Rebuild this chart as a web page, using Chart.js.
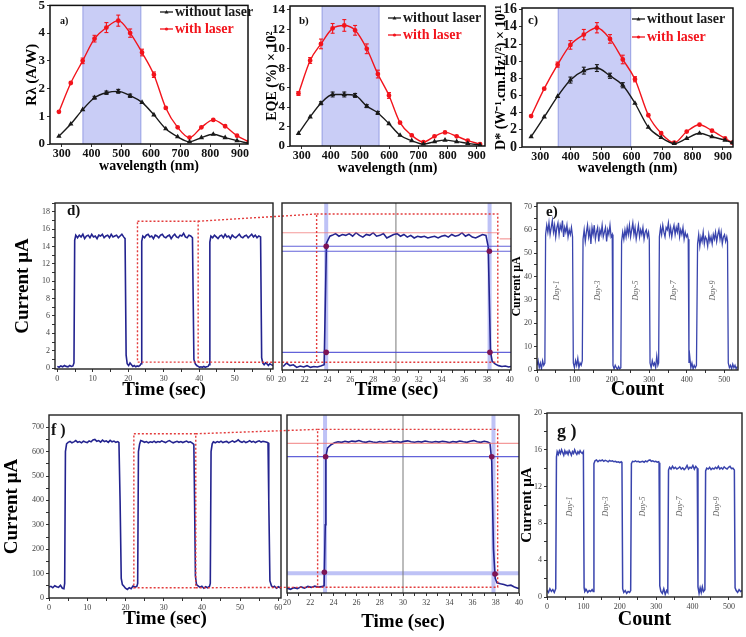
<!DOCTYPE html>
<html>
<head>
<meta charset="utf-8">
<script src="https://cdn.jsdelivr.net/npm/chart.js@4.4.1/dist/chart.umd.min.js"></script>
<style>
  html, body { margin: 0; padding: 0; background: #fff; }
  #page { position: relative; width: 746px; height: 637px; overflow: hidden; background: #fff; }
  #page canvas { position: absolute; left: 0; top: 0; }
</style>
</head>
<body>
<div id="page">
  <canvas id="cA" width="746" height="637"></canvas>
  <canvas id="cB" width="746" height="637"></canvas>
  <canvas id="cC" width="746" height="637"></canvas>
  <canvas id="cD" width="746" height="637"></canvas>
  <canvas id="cD2" width="746" height="637"></canvas>
  <canvas id="cE" width="746" height="637"></canvas>
  <canvas id="cF" width="746" height="637"></canvas>
  <canvas id="cF2" width="746" height="637"></canvas>
  <canvas id="cG" width="746" height="637"></canvas>
</div>
<script>
// ---------- a) responsivity ----------
const wlA = [290, 330, 370, 410, 450, 490, 530, 570, 610, 650, 690, 730, 770, 810, 850, 890, 930];
const respNoLaser = [0.28, 0.72, 1.24, 1.67, 1.85, 1.90, 1.74, 1.50, 1.05, 0.55, 0.26, 0.08, 0.23, 0.35, 0.23, 0.12, 0.02];
const respLaser = [1.16, 2.20, 3.00, 3.80, 4.20, 4.45, 4.00, 3.30, 2.50, 1.30, 0.60, 0.23, 0.60, 0.87, 0.64, 0.30, 0.08];
const respNoLaserErr = [0, 0, 0, 0.05, 0.06, 0.07, 0.06, 0, 0, 0, 0, 0, 0, 0, 0, 0, 0];
const respLaserErr = [0, 0, 0.10, 0.12, 0.18, 0.20, 0.15, 0.12, 0.10, 0, 0, 0, 0, 0, 0, 0, 0];

// ---------- b) EQE ----------
const wlB = [289, 329, 366, 406, 446, 483, 523, 561, 599, 637, 677, 717, 755, 791, 831, 869, 911];
const eqeNoLaser = [1.3, 3.0, 4.4, 5.3, 5.3, 5.2, 4.1, 3.4, 2.3, 1.1, 0.55, 0.2, 0.45, 0.6, 0.45, 0.27, 0.1];
const eqeLaser = [5.4, 8.8, 10.5, 12.1, 12.4, 11.9, 10.0, 7.4, 5.2, 2.4, 1.1, 0.4, 1.0, 1.4, 1.0, 0.55, 0.2];
const eqeNoLaserErr = [0, 0, 0.15, 0.25, 0.25, 0.2, 0.15, 0.15, 0, 0, 0, 0, 0, 0, 0, 0, 0];
const eqeLaserErr = [0.2, 0.3, 0.5, 0.5, 0.6, 0.5, 0.5, 0.4, 0.3, 0, 0, 0, 0, 0, 0, 0, 0];

// ---------- c) detectivity ----------
const wlC = [270, 313, 357, 399, 443, 486, 529, 571, 611, 655, 697, 740, 781, 823, 864, 907, 931];
const detNoLaser = [1.2, 3.5, 5.9, 7.8, 8.9, 9.2, 8.3, 7.2, 5.1, 2.3, 1.1, 0.4, 1.0, 1.6, 1.2, 0.8, 0.5];
const detLaser = [3.6, 6.8, 9.6, 11.9, 13.1, 13.9, 12.6, 10.2, 7.9, 3.7, 1.6, 0.5, 1.8, 2.6, 1.9, 1.0, 0.5];
const detNoLaserErr = [0, 0, 0, 0.35, 0.4, 0.4, 0.3, 0.3, 0, 0, 0, 0, 0, 0, 0, 0, 0];
const detLaserErr = [0, 0, 0.3, 0.5, 0.6, 0.6, 0.5, 0.5, 0.3, 0, 0, 0, 0, 0, 0, 0, 0];

const wlTicks = [300, 400, 500, 600, 700, 800, 900];
const respTicks = [0, 1, 2, 3, 4, 5];
const eqeTicks = [0, 2, 4, 6, 8, 10, 12, 14];
const detTicks = [0, 2, 4, 6, 8, 10, 12, 14, 16];
const shadeA = [371, 566], shadeB = [370, 565], shadeC = [359, 597];

// ---------- d) switching, 15 uA (time s, current uA) ----------
const dTrace = [[0,0.2],[0.5,0.1],[1,0.25],[1.5,0.15],[2,0.3],[2.5,0.2],[3,0.15],[3.5,0.3],[4,0.2],[4.4,0.25],[4.7,0.6],
 [4.9,14.7],[5.2,15.3],[5.7,15.0],[6.2,15.3],[6.7,15.1],[7.2,15.4],[7.7,14.9],[8.2,15.2],[8.7,15.3],[9.2,15.0],[9.7,15.4],[10.2,15.1],[10.7,15.2],[11.2,14.9],[11.7,15.3],[12.2,15.2],[12.7,15.4],[13.2,15.0],[13.7,15.2],[14.2,15.3],[14.7,15.0],[15.2,15.4],[15.7,15.1],[16.2,15.2],[16.7,15.3],[17.2,15.0],[17.7,15.2],[18.2,15.4],[18.7,15.1],[19.1,14.9],
 [19.4,1.5],[19.7,0.5],[20.1,0.3],[20.5,0.6],[20.9,0.4],[21.3,0.2],[21.7,0.3],[22.1,0.15],[22.5,0.25],[22.9,0.2],[23.3,0.3],[23.6,0.5],
 [23.8,14.6],[24.1,15.2],[24.6,15.0],[25.1,15.3],[25.6,15.4],[26.1,15.1],[26.6,15.2],[27.1,14.9],[27.6,15.3],[28.1,15.2],[28.6,15.0],[29.1,15.3],[29.6,15.4],[30.1,15.1],[30.6,15.0],[31.1,15.2],[31.6,15.3],[32.1,14.9],[32.6,15.2],[33.1,15.4],[33.6,15.1],[34.1,15.0],[34.6,15.3],[35.1,15.2],[35.6,15.5],[36.1,15.1],[36.6,15.0],[37.1,15.3],[37.6,15.2],[38.1,15.0],
 [38.5,1.0],[38.9,0.5],[39.3,0.3],[39.7,0.2],[40.1,0.1],[40.5,0.15],[40.9,0.1],[41.3,0.2],[41.7,0.1],[42.1,0.15],[42.5,0.2],[42.8,0.4],
 [43.0,14.5],[43.3,15.2],[43.8,15.0],[44.3,15.3],[44.8,15.1],[45.3,14.9],[45.8,15.2],[46.3,15.3],[46.8,15.0],[47.3,15.4],[47.8,15.1],[48.3,15.2],[48.8,14.9],[49.3,15.3],[49.8,15.1],[50.3,15.0],[50.8,15.2],[51.3,15.4],[51.8,15.1],[52.3,15.0],[52.8,15.2],[53.3,15.3],[53.8,15.0],[54.3,15.2],[54.8,15.4],[55.3,15.1],[55.8,15.3],[56.3,15.0],[56.8,15.2],[57.3,15.1],
 [57.6,1.2],[57.9,0.6],[58.3,0.4],[58.7,0.6],[59.1,0.5],[59.5,0.3],[59.9,0.5],[60.3,0.4],[60.8,0.3]];

// zoom of one pulse
const d2Trace = [[20.1,0.3],[20.4,0.7],[20.7,0.4],[21.0,0.5],[21.3,0.2],[21.6,0.35],[21.9,0.25],[22.2,0.4],[22.5,0.2],[22.8,0.3],[23.1,0.25],[23.4,0.35],[23.7,0.5],
 [23.9,14.4],[24.2,15.2],
 [24.4,15.3],[24.7,15.5],[25.0,15.2],[25.3,15.4],[25.6,15.3],[25.9,15.5],[26.2,15.2],[26.5,15.6],[26.8,15.3],[27.1,15.1],[27.4,15.4],[27.7,15.3],[28.0,15.6],[28.3,15.2],[28.6,15.3],[28.9,15.5],[29.2,15.0],[29.5,15.2],[29.8,15.4],[30.1,15.5],[30.4,15.2],[30.7,15.4],[31.0,15.1],[31.3,15.3],[31.6,15.0],[31.9,15.2],[32.2,15.1],[32.5,15.2],[32.8,15.0],[33.1,15.1],[33.4,15.2],[33.7,15.0],[34.0,15.2],[34.3,15.3],[34.6,15.1],[34.9,15.4],[35.2,15.2],[35.5,15.3],[35.8,15.6],[36.1,15.2],[36.4,15.4],[36.7,15.1],[37.0,15.0],[37.3,15.2],[37.6,15.4],[37.9,15.3],
 [38.1,14.0],[38.3,2.0],[38.45,0.9],[38.7,0.6],[39.0,0.4],[39.3,0.3],[39.6,0.35],[39.9,0.25],[40.1,0.3]];

// ---------- e) stability, 60 uA (count, current) ----------
const eTrace = [[0,2],[3,4],[6,1],[9,3],[12,0.5],[15,4],[18,2],[21,3],
 [23,58],[26,62],[29,59],[32,63],[35,58],[38,61],[41,64],[44,59],[47,62],[50,57],[53,61],[56,63],[59,58],[62,62],[65,60],[68,64],[71,57],[74,61],[77,59],[80,62],[83,57],[86,60],[89,58],[92,61],[95,57],
 [97,3],[100,1],[103,4],[106,2],[109,5],[112,1],[115,3],[118,2],[121,4],
 [123,56],[126,60],[129,55],[132,59],[135,62],[138,57],[141,60],[144,54],[147,61],[150,58],[153,62],[156,56],[159,59],[162,61],[165,55],[168,60],[171,58],[174,62],[177,57],[180,59],[183,61],[186,55],[189,60],[192,58],[195,62],[198,57],[201,58],
 [203,2],[206,0.5],[209,2],[212,1],[215,0.3],[218,1.5],[221,0.5],[224,1],
 [226,55],[229,59],[232,56],[235,60],[238,57],[241,61],[244,58],[247,62],[250,57],[253,60],[256,63],[259,58],[262,61],[265,56],[268,59],[271,62],[274,57],[277,60],[280,58],[283,61],[286,56],[289,59],[292,60],[295,57],[298,59],[300,56],
 [302,3],[305,1],[308,4],[311,2],[314,3],[317,1],[320,6],[323,2],[325,3],
 [327,57],[330,61],[333,58],[336,62],[339,59],[342,57],[345,61],[348,60],[351,63],[354,58],[357,61],[360,57],[363,60],[366,62],[369,58],[372,61],[375,59],[378,63],[381,57],[384,60],[387,58],[390,61],[393,56],[396,59],[399,57],[402,58],[404,56],
 [406,3],[408,6],[411,1],[414,3],[417,0.5],[420,2],[423,1],[426,2],
 [429,54],[432,58],[435,53],[438,57],[441,55],[444,59],[447,54],[450,57],[453,56],[456,53],[459,58],[462,55],[465,57],[468,54],[471,58],[474,56],[477,59],[480,55],[483,58],[486,60],[489,56],[492,59],[495,54],[498,57],[501,58],[504,55],[507,57],[509,55],
 [511,3],[514,1],[517,2],[520,0.5],[523,2.5],[526,1],[529,2],[532,0.5],[535,1.5]];

// ---------- f) switching, 640 uA ----------
const fTrace = [[0,45],[0.5,48],[1,42],[1.5,50],[2,46],[2.5,44],[3,52],[3.5,40],[3.9,38],[4.1,60],
 [4.3,600],[4.6,632],[5,638],[5.5,642],[6,636],[6.5,640],[7,645],[7.5,638],[8,641],[8.5,636],[9,643],[9.5,639],[10,637],[10.5,644],[11,640],[11.5,648],[12,650],[12.5,642],[13,645],[13.5,639],[14,647],[14.5,641],[15,644],[15.5,638],[16,646],[16.5,640],[17,643],[17.5,638],[18,641],[18.3,637],
 [18.6,400],[18.9,80],[19.2,55],[19.6,48],[20,40],[20.5,35],[21,42],[21.5,38],[22,50],[22.5,44],[23,48],[23.2,60],
 [23.4,600],[23.7,630],[24,645],[24.5,642],[25,638],[25.5,641],[26,636],[26.5,640],[27,638],[27.5,643],[28,637],[28.5,641],[29,639],[29.5,644],[30,640],[30.5,637],[31,642],[31.5,645],[32,640],[32.5,636],[33,639],[33.5,642],[34,638],[34.5,641],[35,637],[35.5,640],[36,643],[36.5,638],[37,640],[37.5,635],[37.9,630],
 [38.1,380],[38.3,90],[38.6,55],[39,50],[39.5,44],[40,48],[40.5,40],[41,46],[41.5,42],[42,48],[42.2,60],
 [42.4,600],[42.7,632],[43,640],[43.5,636],[44,641],[44.5,638],[45,643],[45.5,637],[46,640],[46.5,642],[47,636],[47.5,640],[48,644],[48.5,639],[49,642],[49.5,648],[50,641],[50.5,638],[51,643],[51.5,637],[52,640],[52.5,645],[53,639],[53.5,642],[54,637],[54.5,641],[55,644],[55.5,639],[56,642],[56.5,640],[57,638],[57.3,636],
 [57.5,400],[57.8,70],[58.2,50],[58.6,44],[59,48],[59.5,40],[60,46],[60.5,42],[60.7,45]];

const f2Trace = [[20.0,40],[20.3,35],[20.6,42],[20.9,38],[21.2,45],[21.5,40],[21.8,47],[22.1,43],[22.4,48],[22.7,44],[23.0,46],[23.2,50],
 [23.3,300],[23.35,580],[23.5,615],[23.8,628],[24.1,636],
 [24.4,640],[24.7,638],[25.0,642],[25.3,639],[25.6,643],[25.9,641],[26.2,645],[26.5,640],[26.8,638],[27.1,642],[27.4,639],[27.7,637],[28.0,641],[28.3,638],[28.6,640],[28.9,643],[29.2,639],[29.5,641],[29.8,638],[30.1,642],[30.4,644],[30.7,640],[31.0,638],[31.3,641],[31.6,639],[31.9,643],[32.2,640],[32.5,638],[32.8,641],[33.1,639],[33.4,642],[33.7,640],[34.0,637],[34.3,641],[34.6,639],[34.9,643],[35.2,640],[35.5,638],[35.8,642],[36.1,645],[36.4,640],[36.7,638],[37.0,642],[37.3,639],[37.5,634],
 [37.65,560],[37.8,200],[37.95,80],[38.1,62],[38.4,58],[38.7,55],[39.0,50],[39.3,52],[39.6,45],[39.9,40],[40.0,38]];

// ---------- g) stability, 15 uA ----------
const gTrace = [[0,0.7],[4,0.5],[8,0.9],[12,0.6],[16,0.8],[20,0.5],[24,0.9],
 [26,15.2],[28,15.8],[31,15.5],[34,15.9],[37,15.6],[40,16.0],[43,15.7],[46,15.4],[49,15.9],[52,15.6],[55,15.8],[58,15.5],[61,15.9],[64,15.7],[67,15.4],[70,15.8],[73,15.6],[76,16.0],[79,15.7],[82,15.5],[85,15.8],[88,15.6],[91,15.9],[94,15.7],[97,15.6],[100,15.8],
 [102,1.0],[104,0.6],[108,0.8],[112,0.5],[116,0.7],[120,0.6],[124,0.8],[127,0.6],
 [129,14.5],[132,14.8],[136,14.9],[140,14.7],[144,14.85],[148,14.8],[152,14.9],[156,14.75],[160,14.85],[164,14.8],[168,14.7],[172,14.85],[176,14.75],[180,14.8],[184,14.7],[188,14.75],[192,14.65],[196,14.7],[200,14.6],[204,14.7],[206,14.6],
 [208,0.9],[211,0.5],[215,0.7],[219,0.4],[223,0.6],[227,0.5],[230,0.7],
 [232,14.5],[235,14.75],[239,14.7],[243,14.8],[247,14.7],[251,14.75],[255,14.65],[259,14.7],[263,14.75],[267,14.65],[271,14.8],[275,14.7],[279,14.85],[283,14.9],[287,14.75],[291,14.8],[295,14.7],[299,14.75],[303,14.65],[307,14.7],[308,14.6],
 [310,1.2],[313,0.6],[317,0.4],[321,0.9],[325,0.3],[329,0.7],[332,0.5],
 [334,13.8],[337,14.1],[341,13.9],[345,14.2],[349,13.95],[353,14.1],[357,13.9],[361,14.0],[365,14.15],[369,13.9],[373,14.05],[377,13.85],[381,14.0],[385,14.3],[389,13.9],[393,14.1],[397,14.0],[401,14.3],[405,13.9],[409,14.2],[413,14.0],
 [415,1.1],[418,0.4],[421,1.0],[424,0.5],[427,1.1],[430,0.6],[434,0.8],
 [436,13.7],[439,14.0],[443,13.9],[447,14.1],[451,13.85],[455,14.0],[459,13.9],[463,14.1],[467,13.95],[471,14.2],[475,13.9],[479,14.05],[483,13.9],[487,14.15],[491,14.0],[495,13.9],[499,14.1],[503,14.2],[507,13.95],[511,14.0],[515,13.8],
 [517,1.0],[520,0.7],[524,0.5],[528,0.8],[532,0.6],[536,0.7]];

const dayLabels = ['Day-1', 'Day-3', 'Day-5', 'Day-7', 'Day-9'];
const eDayAt = [54, 162, 264, 366, 470];
const gDayAt = [63, 162, 263, 365, 468];

const timeTicks = [0, 5, 10, 15, 20, 25, 30, 35, 40, 45, 50, 55, 60];
const timeMajor = [0, 10, 20, 30, 40, 50, 60];
const zoomTicks = [20, 21, 22, 23, 24, 25, 26, 27, 28, 29, 30, 31, 32, 33, 34, 35, 36, 37, 38, 39, 40];
const zoomMajor = [20, 22, 24, 26, 28, 30, 32, 34, 36, 38, 40];
const countTicks = [0, 50, 100, 150, 200, 250, 300, 350, 400, 450, 500];
const countMajor = [0, 100, 200, 300, 400, 500];
const dYTicks = [0, 1, 2, 3, 4, 5, 6, 7, 8, 9, 10, 11, 12, 13, 14, 15, 16, 17, 18, 19];
const dYMajor = [0, 2, 4, 6, 8, 10, 12, 14, 16, 18];
const eYTicks = [0, 5, 10, 15, 20, 25, 30, 35, 40, 45, 50, 55, 60, 65, 70];
const eYMajor = [0, 10, 20, 30, 40, 50, 60, 70];
const fYTicks = [0, 50, 100, 150, 200, 250, 300, 350, 400, 450, 500, 550, 600, 650, 700];
const fYMajor = [0, 100, 200, 300, 400, 500, 600, 700];
const gYTicks = [0, 2, 4, 6, 8, 10, 12, 14, 16, 18, 20];
const gYMajor = [0, 4, 8, 12, 16, 20];

// ---------- styling ----------
const SERIF = '"Liberation Serif", "Times New Roman", serif';
const RED = '#f2141c';
const BLACK = '#1a1a1a';
const NAVY = '#23238f';
const BLUE = '#3944ad';
const DOT_RED = 'rgba(225,50,50,0.95)';
const charts = {};

function pad(r, wY, hX) {
  return { left: r.L - wY, top: r.T, right: 746 - r.R, bottom: 637 - r.B - hX };
}

function axis(o) {
  return {
    type: 'linear',
    position: o.position,
    min: o.min,
    max: o.max,
    afterFit: s => {
      if (s.isHorizontal()) { s.height = o.size; s.paddingLeft = 0; s.paddingRight = 0; }
      else { s.width = o.size; s.paddingTop = 0; s.paddingBottom = 0; }
    },
    afterBuildTicks: s => { s.ticks = o.ticks.map(v => ({ value: v })); },
    grid: { display: o.marks !== false, drawOnChartArea: false, drawTicks: true, tickLength: 3, color: '#333', lineWidth: 1 },
    border: { display: false },
    ticks: {
      display: o.labels !== false,
      autoSkip: false, maxRotation: 0, minRotation: 0,
      padding: o.pad ?? 2,
      color: o.tickColor || '#444',
      font: { family: SERIF, size: o.fontSize || 8, weight: o.bold ? 'bold' : 'normal' },
      callback: v => (!o.major || o.major.includes(v)) ? String(v) : ''
    },
    title: {
      display: !!o.title, text: o.title, padding: 0, color: '#000',
      font: { family: SERIF, size: o.titleSize || 14, weight: 'bold' }
    }
  };
}

function frame(color, width) {
  return {
    id: 'frame',
    afterDraw(chart) {
      const { ctx, chartArea: a } = chart;
      ctx.save();
      ctx.strokeStyle = color;
      ctx.lineWidth = width;
      ctx.strokeRect(a.left, a.top, a.right - a.left, a.bottom - a.top);
      ctx.restore();
    }
  };
}

function label(ctx, str, x, y, font, color, align, rot) {
  ctx.save();
  ctx.translate(x, y);
  if (rot) ctx.rotate(rot);
  ctx.font = font;
  ctx.fillStyle = color;
  ctx.textAlign = align || 'left';
  ctx.textBaseline = 'middle';
  ctx.fillText(str, 0, 0);
  ctx.restore();
}

function line(ctx, x1, y1, x2, y2, color, width, dash) {
  ctx.save();
  ctx.strokeStyle = color;
  ctx.lineWidth = width;
  if (dash) ctx.setLineDash(dash);
  ctx.beginPath();
  ctx.moveTo(x1, y1);
  ctx.lineTo(x2, y2);
  ctx.stroke();
  ctx.restore();
}

function dottedBox(ctx, x1, y1, x2, y2) {
  ctx.save();
  ctx.strokeStyle = DOT_RED;
  ctx.lineWidth = 1.4;
  ctx.setLineDash([2, 2]);
  ctx.strokeRect(x1, y1, x2 - x1, y2 - y1);
  ctx.restore();
}

function dot(ctx, x, y) {
  ctx.save();
  ctx.fillStyle = 'rgb(125,20,85)';
  ctx.beginPath();
  ctx.arc(x, y, 2.8, 0, Math.PI * 2);
  ctx.fill();
  ctx.restore();
}

// ---------- spectral panels ----------
function spectrum(id, c) {
  const ds = (name, ys, color, style) => ({
    label: name,
    data: c.wl.map((x, i) => ({ x, y: ys[i] })),
    borderColor: color, backgroundColor: color,
    borderWidth: 1.4, pointRadius: 1.7, pointStyle: style,
    tension: 0.3, cubicInterpolationMode: 'monotone'
  });
  return new Chart(document.getElementById(id), {
    type: 'line',
    data: { datasets: [ds('without laser', c.dark, BLACK, 'triangle'), ds('with laser', c.laser, RED, 'circle')] },
    options: {
      responsive: false, animation: false, devicePixelRatio: 1, events: [],
      layout: { padding: pad(c.rect, c.wY, c.hX) },
      plugins: { legend: { display: false }, tooltip: { enabled: false } },
      scales: {
        x: axis({ position: 'bottom', min: c.xMin, max: c.xMax, ticks: wlTicks, size: c.hX, bold: true, fontSize: 12, pad: 0, tickColor: '#111', title: 'wavelength (nm)', titleSize: 14 }),
        y: axis({ position: 'left', min: 0, max: c.yMax, ticks: c.yTicks, size: c.wY, bold: true, fontSize: c.yFont, tickColor: '#111', title: c.yTitle, titleSize: c.yTitleSize })
      }
    },
    plugins: [frame('#111', 1.5), {
      id: 'spec',
      beforeDatasetsDraw(ch) {
        const { ctx, chartArea: a, scales: { x } } = ch;
        const x1 = x.getPixelForValue(c.shade[0]), x2 = x.getPixelForValue(c.shade[1]);
        ctx.save();
        ctx.fillStyle = 'rgb(201,205,246)';
        ctx.fillRect(x1, a.top, x2 - x1, a.bottom - a.top);
        ctx.restore();
        line(ctx, x1, a.top, x1, a.bottom, 'rgb(150,158,228)', 1);
        line(ctx, x2, a.top, x2, a.bottom, 'rgb(150,158,228)', 1);
      },
      afterDatasetsDraw(ch) {
        const { ctx, scales: { x, y } } = ch;
        [[c.dark, c.darkErr, BLACK], [c.laser, c.laserErr, RED]].forEach(([vals, errs, col]) => {
          vals.forEach((v, i) => {
            if (!errs[i]) return;
            const px = x.getPixelForValue(c.wl[i]);
            const top = y.getPixelForValue(v + errs[i]), bot = y.getPixelForValue(v - errs[i]);
            line(ctx, px, top, px, bot, col, 1.1);
            line(ctx, px - 2, top, px + 2, top, col, 1.1);
            line(ctx, px - 2, bot, px + 2, bot, col, 1.1);
          });
        });
        const lg = c.legend;
        const font = 'bold ' + lg.size + 'px ' + SERIF;
        line(ctx, lg.x, lg.y1, lg.x + 13, lg.y1, BLACK, 1.3);
        line(ctx, lg.x, lg.y2, lg.x + 13, lg.y2, RED, 1.3);
        ctx.save();
        ctx.fillStyle = BLACK;
        ctx.beginPath(); ctx.moveTo(lg.x + 6.5, lg.y1 - 2); ctx.lineTo(lg.x + 8.5, lg.y1 + 1.5); ctx.lineTo(lg.x + 4.5, lg.y1 + 1.5); ctx.fill();
        ctx.fillStyle = RED;
        ctx.beginPath(); ctx.arc(lg.x + 6.5, lg.y2, 1.6, 0, Math.PI * 2); ctx.fill();
        ctx.restore();
        label(ctx, 'without laser', lg.x + 15, lg.y1, font, BLACK);
        label(ctx, 'with laser', lg.x + 15, lg.y2, font, RED);
        label(ctx, c.letter, c.letterAt[0], c.letterAt[1], 'bold ' + c.letterSize + 'px ' + SERIF, '#111');
      }
    }]
  });
}

charts.a = spectrum('cA', {
  rect: { L: 50, T: 3, R: 248, B: 144 }, wY: 27, hX: 30.4,
  wl: wlA, dark: respNoLaser, laser: respLaser, darkErr: respNoLaserErr, laserErr: respLaserErr,
  xMin: 260, xMax: 927, yMax: 5, yTicks: respTicks, yFont: 13,
  yTitle: 'Rλ (A/W)', yTitleSize: 15, shade: shadeA,
  legend: { x: 160, y1: 12, y2: 29, size: 14 },
  letter: 'a)', letterAt: [60, 21], letterSize: 10
});

charts.b = spectrum('cB', {
  rect: { L: 290, T: 6, R: 485, B: 146 }, wY: 26.4, hX: 30.4,
  wl: wlB, dark: eqeNoLaser, laser: eqeLaser, darkErr: eqeNoLaserErr, laserErr: eqeLaserErr,
  xMin: 260, xMax: 928, yMax: 14.4, yTicks: eqeTicks, yFont: 13,
  yTitle: 'EQE (%) × 10²', yTitleSize: 14, shade: shadeB,
  legend: { x: 388, y1: 18, y2: 35, size: 14 },
  letter: 'b)', letterAt: [299, 21], letterSize: 11
});

charts.c = spectrum('cC', {
  rect: { L: 522, T: 8, R: 733, B: 147 }, wY: 29.4, hX: 29.9,
  wl: wlC, dark: detNoLaser, laser: detLaser, darkErr: detNoLaserErr, laserErr: detLaserErr,
  xMin: 240, xMax: 933, yMax: 16.2, yTicks: detTicks, yFont: 14,
  yTitle: 'D* (W⁻¹.cm.Hz¹/²) × 10¹¹', yTitleSize: 14, shade: shadeC,
  legend: { x: 632, y1: 19, y2: 37, size: 14 },
  letter: 'c)', letterAt: [528, 21], letterSize: 13
});

// ---------- pulse panels ----------
function pulse(id, c) {
  return new Chart(document.getElementById(id), {
    type: 'line',
    data: { datasets: [{ data: c.trace.map(p => ({ x: p[0], y: p[1] })), borderColor: c.color, borderWidth: c.lw, pointRadius: 0, tension: 0, fill: false }] },
    options: {
      responsive: false, animation: false, devicePixelRatio: 1, events: [],
      layout: { padding: pad(c.rect, c.wY, c.hX) },
      plugins: { legend: { display: false }, tooltip: { enabled: false } },
      scales: {
        x: axis(Object.assign({ position: 'bottom', size: c.hX }, c.x)),
        y: axis(Object.assign({ position: 'left', size: c.wY }, c.y))
      }
    },
    plugins: [frame('#222', 1.4), { id: 'extra', beforeDatasetsDraw: c.before, afterDatasetsDraw: c.after }]
  });
}

const dZoomBox = [22.6, 39.7, 0.69, 16.9];
const d2Box = [23.04, 38.94, 0.78, 17.75];
const fZoomBox = [22.2, 38.4, 42, 673];
const f2Box = [22.64, 38.16, 43.4, 691];

function dayText(ch, at, yVal) {
  const { ctx, scales: { x, y } } = ch;
  at.forEach((c, i) => label(ctx, dayLabels[i], x.getPixelForValue(c), y.getPixelForValue(yVal), 'italic 8px ' + SERIF, '#666', 'center', -Math.PI / 2));
}

charts.d = pulse('cD', {
  rect: { L: 55, T: 203, R: 273, B: 369 }, wY: 43.4, hX: 32.4,
  trace: dTrace, color: NAVY, lw: 1.6,
  x: { min: -0.65, max: 60.8, ticks: timeTicks, major: timeMajor, title: 'Time (sec)', titleSize: 19 },
  y: { min: -0.1, max: 19, ticks: dYTicks, major: dYMajor, title: 'Current μA', titleSize: 19 },
  after: ch => {
    const { ctx, scales: { x, y } } = ch;
    dottedBox(ctx, x.getPixelForValue(dZoomBox[0]), y.getPixelForValue(dZoomBox[3]), x.getPixelForValue(dZoomBox[1]), y.getPixelForValue(dZoomBox[2]));
    label(ctx, 'd)', 67, 211, 'bold 15px ' + SERIF, '#111');
  }
});

charts.d2 = pulse('cD2', {
  rect: { L: 282, T: 203, R: 511, B: 370 }, wY: 0, hX: 31.4,
  trace: d2Trace, color: NAVY, lw: 1.6,
  x: { min: 20, max: 40.1, ticks: zoomTicks, major: zoomMajor, title: 'Time (sec)', titleSize: 19 },
  y: { min: -0.1, max: 19, ticks: dYTicks, labels: false, marks: false },
  before: ch => {
    const { ctx, chartArea: a, scales: { x } } = ch;
    [23.88, 38.22].forEach(t => line(ctx, x.getPixelForValue(t), a.top, x.getPixelForValue(t), a.bottom, 'rgba(110,120,235,0.45)', 4));
    line(ctx, x.getPixelForValue(30), a.top, x.getPixelForValue(30), a.bottom, 'rgb(120,120,120)', 1);
  },
  after: ch => {
    const { ctx, chartArea: a, scales: { x, y } } = ch;
    const X = v => x.getPixelForValue(v), Y = v => y.getPixelForValue(v);
    line(ctx, a.left, Y(15.6), X(39.1), Y(15.6), 'rgba(240,120,120,0.75)', 1.2);
    line(ctx, X(39.1), Y(14.9), a.right, Y(14.9), 'rgba(240,120,120,0.75)', 1.2);
    [14.06, 13.49, 1.92].forEach(v => line(ctx, a.left, Y(v), a.right, Y(v), 'rgba(70,70,210,0.85)', 1.1));
    dottedBox(ctx, X(d2Box[0]), Y(d2Box[3]), X(d2Box[1]), Y(d2Box[2]));
    dot(ctx, X(23.88), Y(14.06)); dot(ctx, X(23.88), Y(1.92));
    dot(ctx, X(38.2), Y(13.49)); dot(ctx, X(38.25), Y(1.92));
    const d = charts.d.scales;
    line(ctx, d.x.getPixelForValue(dZoomBox[1]), d.y.getPixelForValue(dZoomBox[3]), X(d2Box[0]), Y(d2Box[3]), DOT_RED, 1.4, [2, 2]);
    line(ctx, d.x.getPixelForValue(dZoomBox[1]), d.y.getPixelForValue(dZoomBox[2]), X(d2Box[0]), Y(d2Box[2]), DOT_RED, 1.4, [2, 2]);
  }
});

charts.e = pulse('cE', {
  rect: { L: 537, T: 203, R: 738, B: 370 }, wY: 27.2, hX: 32,
  trace: eTrace, color: BLUE, lw: 1.3,
  x: { min: 0, max: 537, ticks: countTicks, major: countMajor, title: 'Count', titleSize: 20 },
  y: { min: 0, max: 71.5, ticks: eYTicks, major: eYMajor, title: 'Current μA', titleSize: 12 },
  after: ch => {
    dayText(ch, eDayAt, 34);
    label(ch.ctx, 'e)', 546, 212, 'bold 15px ' + SERIF, '#111');
  }
});

charts.f = pulse('cF', {
  rect: { L: 49, T: 415, R: 281, B: 598 }, wY: 48.4, hX: 32,
  trace: fTrace, color: NAVY, lw: 1.6,
  x: { min: 0, max: 60.7, ticks: timeTicks, major: timeMajor, title: 'Time (sec)', titleSize: 19 },
  y: { min: 0, max: 750, ticks: fYTicks, major: fYMajor, title: 'Current μA', titleSize: 19 },
  after: ch => {
    const { ctx, scales: { x, y } } = ch;
    dottedBox(ctx, x.getPixelForValue(fZoomBox[0]), y.getPixelForValue(fZoomBox[3]), x.getPixelForValue(fZoomBox[1]), y.getPixelForValue(fZoomBox[2]));
    label(ctx, 'f )', 51, 431, 'bold 16px ' + SERIF, '#111');
  }
});

charts.f2 = pulse('cF2', {
  rect: { L: 287, T: 415, R: 519, B: 593 }, wY: 0, hX: 40.4,
  trace: f2Trace, color: NAVY, lw: 1.6,
  x: { min: 20, max: 40, ticks: zoomTicks, major: zoomMajor, title: 'Time (sec)', titleSize: 19 },
  y: { min: 20, max: 750, ticks: fYTicks, labels: false, marks: false },
  before: ch => {
    const { ctx, chartArea: a, scales: { x, y } } = ch;
    [23.28, 37.8].forEach(t => line(ctx, x.getPixelForValue(t), a.top, x.getPixelForValue(t), a.bottom, 'rgba(110,120,235,0.45)', 4));
    line(ctx, a.left, y.getPixelForValue(100.8), a.right, y.getPixelForValue(100.8), 'rgba(110,120,235,0.45)', 4);
    line(ctx, x.getPixelForValue(30), a.top, x.getPixelForValue(30), a.bottom, 'rgb(120,120,120)', 1);
  },
  after: ch => {
    const { ctx, chartArea: a, scales: { x, y } } = ch;
    const X = v => x.getPixelForValue(v), Y = v => y.getPixelForValue(v);
    line(ctx, a.left, Y(634), a.right, Y(634), 'rgba(240,120,120,0.75)', 1.2);
    line(ctx, a.left, Y(579), a.right, Y(579), 'rgba(70,70,210,0.85)', 1.2);
    dottedBox(ctx, X(f2Box[0]), Y(f2Box[3]), X(f2Box[1]), Y(f2Box[2]));
    dot(ctx, X(23.33), Y(579)); dot(ctx, X(23.22), Y(105));
    dot(ctx, X(37.65), Y(579)); dot(ctx, X(37.93), Y(98));
    const f = charts.f.scales;
    line(ctx, f.x.getPixelForValue(fZoomBox[1]), f.y.getPixelForValue(fZoomBox[3]), X(f2Box[0]), Y(f2Box[3]), DOT_RED, 1.4, [2, 2]);
    line(ctx, f.x.getPixelForValue(fZoomBox[1]), f.y.getPixelForValue(fZoomBox[2]), X(f2Box[0]), Y(f2Box[2]), DOT_RED, 1.4, [2, 2]);
  }
});

charts.g = pulse('cG', {
  rect: { L: 547, T: 413, R: 742, B: 597 }, wY: 29, hX: 35,
  trace: gTrace, color: BLUE, lw: 1.5,
  x: { min: 0, max: 536, ticks: countTicks, major: countMajor, title: 'Count', titleSize: 20 },
  y: { min: 0, max: 20, ticks: gYTicks, major: gYMajor, title: 'Current μA', titleSize: 15 },
  after: ch => {
    dayText(ch, gDayAt, 9.85);
    label(ch.ctx, 'g )', 557, 432, 'bold 18px ' + SERIF, '#111');
  }
});
</script>
</body>
</html>
